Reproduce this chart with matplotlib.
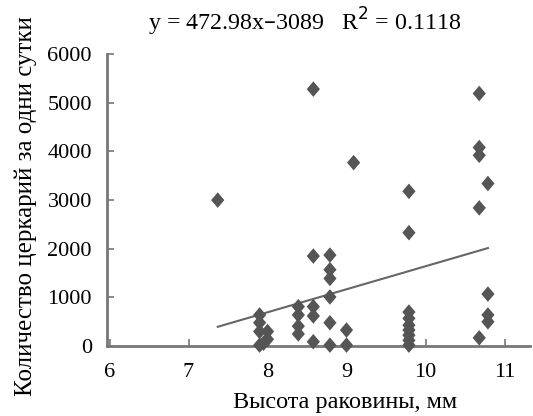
import matplotlib
matplotlib.use("Agg")
import matplotlib.pyplot as plt
import numpy as np
from matplotlib.path import Path

plt.rcParams['font.family'] = ['Liberation Serif', 'DejaVu Serif']

# Data: shell height (mm) vs cercariae per day
shell_height = [7.37, 8.58, 9.09, 9.79, 9.79, 10.68, 10.68, 10.68, 10.79, 10.68,
                10.79, 10.79, 10.79, 10.68,
                8.58, 8.79, 8.79, 8.79, 8.79, 8.79, 8.79,
                8.58, 8.58, 8.58,
                8.39, 8.39, 8.39, 8.39,
                9.00, 9.00,
                7.90, 7.90, 7.90, 8.00, 8.00, 7.90, 7.95,
                9.79, 9.79, 9.79, 9.79, 9.79, 9.79, 9.79]
cercariae = [3000, 5280, 3770, 3180, 2330, 5190, 4080, 3920, 3340, 2840,
             1070, 640, 500, 170,
             1850, 1870, 1570, 1390, 1010, 480, 20,
             810, 620, 90,
             810, 640, 410, 250,
             330, 20,
             640, 480, 300, 300, 140, 20, 60,
             700, 570, 430, 330, 225, 120, 20]

slope = 472.98
intercept = -3089
title_text = "y = 472.98x\u20133089   R$^2$ = 0.1118"
x_ticks = [6, 7, 8, 9, 10, 11]
y_ticks = [0, 1000, 2000, 3000, 4000, 5000, 6000]

fig = plt.figure(figsize=(5.33, 4.16), dpi=100)
ax = fig.add_axes([0.201, 0.168, 0.793, 0.702])

diamond = Path([(0, 1), (0.85, 0), (0, -1), (-0.85, 0), (0, 1)],
               [Path.MOVETO, Path.LINETO, Path.LINETO, Path.LINETO, Path.CLOSEPOLY])

ax.scatter(shell_height, cercariae, marker=diamond, s=125, color='#555555',
           edgecolors='none', zorder=3, clip_on=False)

xs = np.array([min(shell_height), max(shell_height)])
ax.plot(xs, slope * xs + intercept, color='#666666', lw=1.5, zorder=2)

ax.set_xlim(5.97, 11.32)
ax.set_ylim(0, 6000)
ax.set_xticks(x_ticks)
ax.set_yticks(y_ticks)
for s in ['top', 'right']:
    ax.spines[s].set_visible(False)
for s in ['left', 'bottom']:
    ax.spines[s].set_color('#777777')
    ax.spines[s].set_linewidth(2)
ax.tick_params(axis='both', direction='in', length=5, width=1.2, color='#777777',
               labelsize=16)
ax.tick_params(axis='y', pad=11)
ax.tick_params(axis='x', pad=12)

ax.set_xlabel("Высота раковины, мм", fontsize=17.5)
ax.xaxis.set_label_coords(0.563, -0.158)
ax.set_ylabel("Количество церкарий за одни сутки", fontsize=18)
ax.yaxis.set_label_coords(-0.166, 0.479)
ax.set_title(title_text, fontsize=17.3, x=0.468, pad=17)

fig.savefig("out.png", dpi=100)
